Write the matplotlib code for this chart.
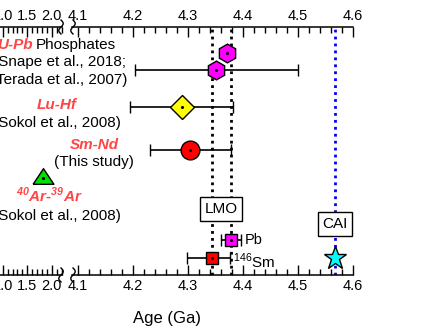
import numpy as np
import matplotlib
matplotlib.use("Agg")
import matplotlib.pyplot as plt
from matplotlib.ticker import MultipleLocator
from matplotlib.lines import Line2D

W, H, DPI = 433, 328, 100
FONT = "Liberation Sans"
C_LABEL = "#FF4545"

plt.rcParams.update({
    "font.family": FONT,
    "mathtext.fontset": "custom",
    "mathtext.rm": "Liberation Sans",
    "mathtext.bf": "Liberation Sans:bold:italic",
})

# ages (Ga) and row positions (rows counted from the top)
UPB_AGE = [4.371, 4.352]
UPB_ERR = [0.0, 0.148]
UPB_ROW = [53, 70]
LUHF_AGE, LUHF_ERR, LUHF_ROW = 4.289, 0.093, 107
SMND_AGE, SMND_ERR, SMND_ROW = 4.305, 0.073, 150
ARAR_AGE, ARAR_ROW = 1.82, 176
LMO_AGES = [4.344, 4.378]
PB_AGE, PB_ERR, PB_ROW = 4.378, 0.018, 240
SM_AGE, SM_ERR_LO, SM_ERR_HI, SM_ROW = 4.344, 0.046, 0.032, 258
CAI_AGE, CAI_ROW = 4.567, 258
LMO_ROW, CAI_BOX_ROW = 209, 224

fig = plt.figure(figsize=(W / DPI, H / DPI), dpi=DPI, facecolor="white")


def fx(px):
    return px / W


def fy(py):
    return 1 - py / H


AX_TOP, AX_BOT = 27, 275
ax_r = fig.add_axes([fx(72), fy(AX_BOT), fx(353 - 72), (AX_BOT - AX_TOP) / H])
ax_l = fig.add_axes([fx(62 - 108.3), fy(AX_BOT), fx(108.3), (AX_BOT - AX_TOP) / H])
ax_r.set_xlim(4.09, 4.6)
ax_l.set_xlim(0.0, 2.21)

for ax, maj, mnr in ((ax_r, 0.1, 0.02), (ax_l, 0.5, 0.1)):
    ax.set_ylim(AX_BOT, AX_TOP)
    ax.set_facecolor("none")
    ax.set_yticks([])
    ax.spines["left"].set_visible(False)
    ax.spines["right"].set_visible(False)
    ax.spines["top"].set_linewidth(1.1)
    ax.spines["bottom"].set_linewidth(1.1)
    ax.xaxis.set_major_locator(MultipleLocator(maj))
    ax.xaxis.set_minor_locator(MultipleLocator(mnr))
    ax.xaxis.set_major_formatter(lambda v, p: f"{v:.1f}")
    ax.tick_params(axis="x", which="both", direction="in", top=True, bottom=True,
                   labeltop=True, labelbottom=True, labelsize=10.5, pad=3)
    ax.tick_params(axis="x", which="major", length=7, width=1)
    ax.tick_params(axis="x", which="minor", length=4, width=1)

# vertical reference lines
for a in LMO_AGES:
    ax_r.axvline(a, color="black", ls=(0, (1, 1.5)), lw=2, zorder=1)
ax_r.axvline(CAI_AGE, color="#0000FF", ls=(0, (1, 1.5)), lw=2, zorder=1)

ekw = dict(ecolor="black", elinewidth=1.2, capsize=4, capthick=1.2, ls="none", zorder=3)

# U-Pb phosphates
ax_r.errorbar(UPB_AGE, UPB_ROW, xerr=UPB_ERR, fmt="h", ms=13.5, mfc="#FF00FF",
              mec="black", mew=1, **ekw)
# Lu-Hf
ax_r.errorbar(LUHF_AGE, LUHF_ROW, xerr=LUHF_ERR, fmt="D", ms=12, mfc="#FFFF00",
              mec="black", mew=1, **ekw)
# Sm-Nd
ax_r.errorbar(SMND_AGE, SMND_ROW, xerr=SMND_ERR, fmt="o", ms=13.5, mfc="#FF0000",
              mec="black", mew=1, **ekw)
# Pb and 146Sm
ax_r.errorbar(PB_AGE, PB_ROW, xerr=PB_ERR, fmt="s", ms=8.5, mfc="#FF00FF",
              mec="black", mew=1, **ekw)
ax_r.errorbar(SM_AGE, SM_ROW, xerr=[[SM_ERR_LO], [SM_ERR_HI]], fmt="s", ms=8.5,
              mfc="#FF0000", mec="black", mew=1, **ekw)
# CAI
ax_r.plot(CAI_AGE, CAI_ROW, marker="*", ms=17, mfc="#00FFFF", mec="black", mew=1,
          ls="none", zorder=4)
# Ar-Ar
tri = [(-1, -0.75), (1, -0.75), (0, 0.75), (-1, -0.75)]
ax_l.plot(ARAR_AGE, ARAR_ROW, marker=tri, ms=15, mfc="#00DD00", mec="black", mew=1,
          ls="none", zorder=4, clip_on=False)

# centre dots
dx = UPB_AGE + [LUHF_AGE, SMND_AGE, PB_AGE, SM_AGE]
dy = UPB_ROW + [LUHF_ROW, SMND_ROW, PB_ROW, SM_ROW]
ax_r.plot(dx, dy, ".", color="black", ms=2.5, zorder=5)
ax_l.plot(ARAR_AGE, ARAR_ROW + 2, ".", color="black", ms=2.5, zorder=5, clip_on=False)

# LMO / CAI boxes
bkw = dict(boxstyle="square,pad=0.3", fc="white", ec="black", lw=1)
ax_r.text(np.mean(LMO_AGES), LMO_ROW, "LMO", ha="center", va="center", fontsize=11,
          bbox=bkw, zorder=6)
ax_r.text(CAI_AGE, CAI_BOX_ROW, "CAI", ha="center", va="center", fontsize=11,
          bbox=bkw, zorder=6)

# small labels
ax_r.text(PB_AGE + PB_ERR + 0.008, PB_ROW, "Pb", ha="left", va="center", fontsize=10.5)
ax_r.text(SM_AGE + SM_ERR_HI + 0.006, SM_ROW + 3, r"$^{146}$Sm", ha="left",
          va="center", fontsize=11)

# method labels (partly off the left edge)
lab = dict(color=C_LABEL, fontweight="bold", fontstyle="italic", fontsize=11,
           va="center")
txt = dict(color="black", fontsize=11, va="center")
fig.text(fx(33), fy(45), "U-Pb", ha="right", **lab)
fig.text(fx(36), fy(45), "Phosphates", ha="left", **txt)
fig.text(fx(126), fy(62), "(Snape et al., 2018;", ha="right", **txt)
fig.text(fx(127), fy(80), "Terada et al., 2007)", ha="right", **txt)
fig.text(fx(77), fy(105), "Lu-Hf", ha="right", **lab)
fig.text(fx(121), fy(123), "(Sokol et al., 2008)", ha="right", **txt)
fig.text(fx(94), fy(145), "Sm-Nd", ha="center", **lab)
fig.text(fx(94), fy(162), "(This study)", ha="center", **txt)
fig.text(fx(49), fy(195), r"$^{\mathbf{40}}$Ar-$^{\mathbf{39}}$Ar", ha="center", **lab)
fig.text(fx(121), fy(216), "(Sokol et al., 2008)", ha="right", **txt)

fig.text(fx(167), fy(318), "Age (Ga)", ha="center", va="center", fontsize=12)

# axis break marks
t = np.linspace(0, 1, 30)
for x0 in (61, 73):
    for y0 in (AX_TOP, AX_BOT):
        xs = x0 + 2.2 * np.sin(2 * np.pi * t)
        ys = y0 - 7 + 14 * t
        fig.add_artist(Line2D(fx(xs), fy(ys), color="black", lw=1,
                              transform=fig.transFigure))

fig.savefig("out.png", dpi=DPI, facecolor="white")
